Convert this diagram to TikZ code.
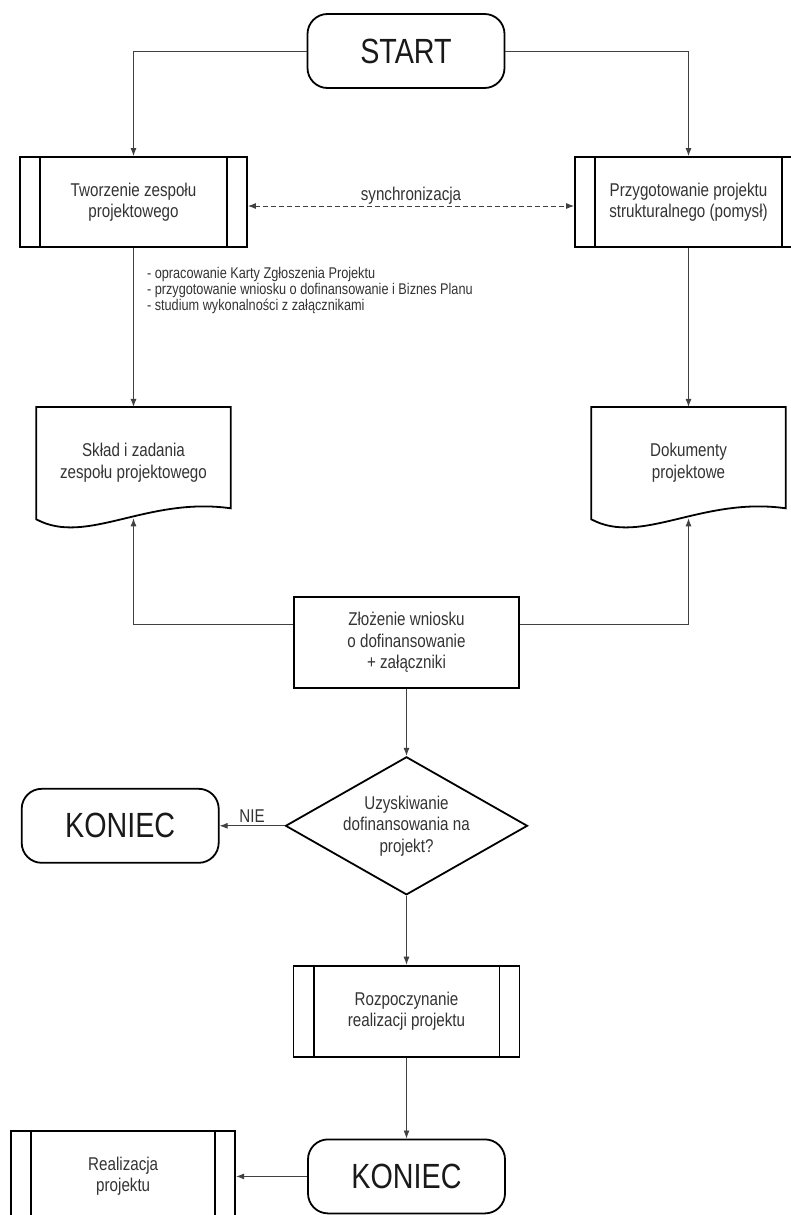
\documentclass[tikz,border=0pt]{standalone}
\usepackage{fontspec}
\setmainfont{Liberation Sans}[FakeStretch=0.82]
\usetikzlibrary{arrows.meta,positioning,calc,shapes.geometric}

\begin{document}
\begin{tikzpicture}[x=1pt,y=1pt,font=\fontsize{18.5}{21.5}\selectfont,text=black!80]
\tikzset{
  termin/.style={draw,line width=1.8pt,rounded corners=20pt,minimum width=197pt,minimum height=74pt,font=\fontsize{35}{40}\selectfont,text=black!90},
  podproc/.style={draw,line width=1.8pt,align=center,minimum width=227pt,minimum height=90pt},
  proc/.style={draw,line width=1.8pt,align=center,minimum width=225pt,minimum height=91pt},
  dokument/.style={align=center,minimum width=194pt,minimum height=111pt},
  decyzja/.style={diamond,draw,line width=1.8pt,align=center,aspect=1.75,inner sep=0pt,minimum width=242pt,minimum height=138pt},
  opis/.style={align=left,font=\fontsize{15.5}{16}\selectfont},
  ramka/.style={line width=1.8pt},
  strz/.style={-{Latex[length=8pt,width=6pt]},line width=0.9pt,draw=black!75},
  sync/.style={{Latex[length=8pt,width=6pt]}-{Latex[length=8pt,width=6pt]},line width=0.9pt,draw=black!75,dash pattern=on 5pt off 3pt}
}
\useasboundingbox (0,0) rectangle (791,-1215);
\clip (0,0) rectangle (791,-1215);
\node(start)[termin] at (406,-51){START};
\node(tworz)[podproc] at (133.5,-202){Tworzenie zespołu\\projektowego};
\node(przyg)[podproc] at (688.5,-202){Przygotowanie projektu\\strukturalnego (pomysł)};
\node(opis)[opis,anchor=north west,below right=16pt and 10pt of tworz.south]{- opracowanie Karty Zgłoszenia Projektu\\- przygotowanie wniosku o dofinansowanie i Biznes Planu\\- studium wykonalności z załącznikami};
\node(sklad)[dokument,below=159pt of tworz]{Skład i zadania\\zespołu projektowego};
\node(dokum)[dokument,below=159pt of przyg]{Dokumenty\\projektowe};
\node(zloz)[proc] at (406.5,-642.5){Złożenie wniosku\\o dofinansowanie\\+ załączniki};
\node(decyzja)[decyzja,below=67pt of zloz]{Uzyskiwanie\\dofinansowania na\\projekt?};
\node(koniec1)[termin,left=65pt of decyzja]{KONIEC};
\node(rozp)[podproc,minimum width=226pt,minimum height=91pt,below=69pt of decyzja]{Rozpoczynanie\\realizacji projektu};
\node(koniec2)[termin,below=81pt of rozp]{KONIEC};
\node(realiz)[podproc,minimum width=224pt,minimum height=91pt,left=71pt of koniec2]{Realizacja\\projektu};
% boczne linie podprocesow
\foreach \p in {tworz,przyg,rozp,realiz}
  \draw[ramka] ($(\p.north west)+(21,0)$) -- ($(\p.south west)+(21,0)$)
               ($(\p.north east)+(-21,0)$) -- ($(\p.south east)+(-21,0)$);
% ksztalt dokumentu
\foreach \d in {sklad,dokum}
  \draw[ramka] (\d.north west) -- (\d.north east) -- ($(\d.south east)+(0,10)$)
    .. controls ($(\d.south east)+(-84,22)$) and ($(\d.south west)+(50,-28)$) .. ($(\d.south west)+(0,-1)$) -- cycle;
\draw[strz](start.west) -| (tworz.north);
\draw[strz](start.east) -| (przyg.north);
\draw[sync]([yshift=-4pt]tworz.east) -- node[above,inner sep=1pt]{synchronizacja} ([yshift=-4pt]przyg.west);
\draw[strz](tworz.south) -- (sklad.north);
\draw[strz](przyg.south) -- (dokum.north);
\draw[strz]([yshift=18pt]zloz.west) -| (sklad.south);
\draw[strz]([yshift=18pt]zloz.east) -| (dokum.south);
\draw[strz](zloz) -- (decyzja);
\draw[strz](decyzja) -- node[above]{NIE} (koniec1);
\draw[strz](decyzja) -- (rozp);
\draw[strz](rozp) -- (koniec2);
\draw[strz](koniec2) -- (realiz);
\end{tikzpicture}
\end{document}
